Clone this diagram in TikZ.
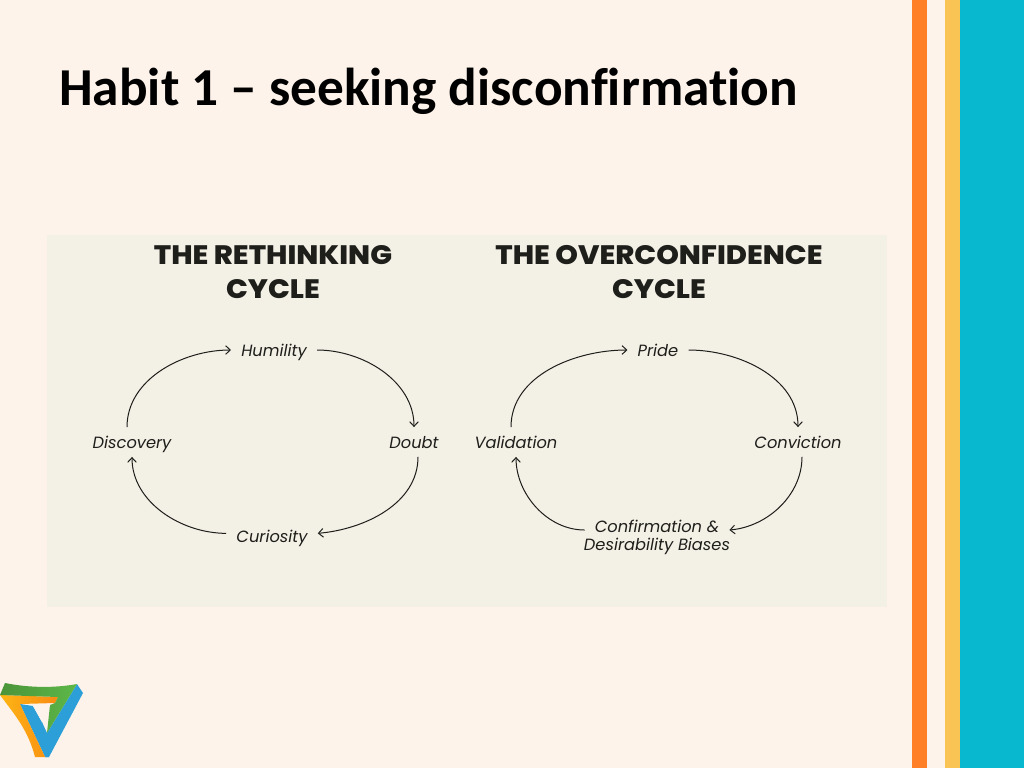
\documentclass[tikz,border=0pt]{standalone}
\usepackage{fontspec}
\setmainfont[Ligatures=NoCommon]{Carlito}
\newfontfamily\cyclefont{Poppins}
\newfontfamily\cycleheadfont[FakeStretch=1.08]{Poppins ExtraBold}
\usetikzlibrary{positioning, arrows.meta}
\definecolor{pagecream}{HTML}{FEF3EB}
\definecolor{panelcream}{HTML}{F3F0E6}
\definecolor{stripeorange}{HTML}{FF7F27}
\definecolor{stripeyellow}{HTML}{F9C454}
\definecolor{stripeteal}{HTML}{08B8CE}
\definecolor{inkdark}{HTML}{1E1E1A}
\definecolor{logogreen}{HTML}{5DB848}
\definecolor{logoblue}{HTML}{2C9FD8}
\definecolor{logoyellow}{HTML}{FDB515}
\definecolor{logoorange}{HTML}{F98A12}
\tikzset{
  cycletitle/.style={font=\cycleheadfont\fontsize{20}{25}\selectfont, text=inkdark, align=center},
  cyclelabel/.style={font=\cyclefont\fontsize{12.2}{13.5}\selectfont\itshape, text=inkdark, inner xsep=7.5pt, inner ysep=4.5pt, text height=11pt, text depth=2pt},
  cyclearrow/.style={draw=inkdark, line width=0.75pt, -{Straight Barb[length=3.5pt, width=6.5pt]}}
}
\begin{document}
\begin{tikzpicture}[x=0.75pt, y=-0.75pt]
% Page and side stripes
\fill[pagecream] (0,0) rectangle (1024,768);
\fill[stripeorange] (912,0) rectangle (927,768);
\fill[stripeyellow] (945,0) rectangle (960,768);
\fill[stripeteal] (960,0) rectangle (1024,768);
\fill[panelcream] (47,235) rectangle (887,607);

% Title
\node[font=\fontsize{40}{44}\selectfont\bfseries, text=black, anchor=west, inner sep=0pt] (slidetitle) at (59,91) {Habit 1 – seeking disconfirmation};

% Left cycle
\node[cycletitle] (rethinktitle) at (273,272) {THE RETHINKING\\CYCLE};
\node[cyclelabel] (humility) at (274,350) {Humility};
\node[cyclelabel] (doubt) at (414,442) {Doubt};
\node[cyclelabel] (curiosity) at (272,536) {Curiosity};
\node[cyclelabel] (discovery) at (132,442) {Discovery};
\draw[cyclearrow] (humility.east) to[out=0, in=90, looseness=0.95] (doubt.north);
\draw[cyclearrow] ([xshift=3pt]doubt.south) to[out=-90, in=5, looseness=0.95] ([yshift=2pt]curiosity.east);
\draw[cyclearrow] ([yshift=2pt]curiosity.west) to[out=180, in=-90, looseness=0.95] (discovery.south);
\draw[cyclearrow] ([xshift=-3.75pt]discovery.north) to[out=90, in=180, looseness=0.95] (humility.west);

% Right cycle
\node[cycletitle] (overtitle) at (659,272) {THE OVERCONFIDENCE\\CYCLE};
\node[cyclelabel] (pride) at (658,350) {Pride};
\node[cyclelabel] (conviction) at (798,442) {Conviction};
\node[cyclelabel] (confirm) at (657,526) {Confirmation \&};
\node[cyclelabel] (biases) at (657,544) {Desirability Biases};
\node[cyclelabel] (validation) at (516,442) {Validation};
\draw[cyclearrow] (pride.east) to[out=0, in=90, looseness=0.95] (conviction.north);
\draw[cyclearrow] ([xshift=3pt]conviction.south) to[out=-90, in=5, looseness=0.95] ([yshift=-3pt]confirm.east);
\draw[cyclearrow] ([yshift=-3pt]confirm.west) to[out=180, in=-90, looseness=0.95] (validation.south);
\draw[cyclearrow] ([xshift=-3.75pt]validation.north) to[out=90, in=180, looseness=0.95] (pride.west);

% Logo
\fill[logoblue] (77,684) -- (83,693) -- (49,757) -- (45,757) -- (47,733) -- cycle;
\fill[logoblue] (20,704) -- (33,706) -- (42,722) -- (47,733) -- (49,757) -- (45,757) -- cycle;
\shade[left color=logoyellow, right color=logoorange] (0,695) -- (58,697) -- (55,703) -- (20,704) -- (45,757) -- (35,757) .. controls (28,730) and (15,715) .. cycle;
\shade[left color=logogreen!80!black, right color=logogreen] (0,695) -- (5,683) .. controls (30,688) and (55,688) .. (77,684) -- (47,733) -- (50,705) -- (55,703) -- (58,697) -- cycle;
\fill[pagecream] (33,706) -- (50,705) -- (42,722) -- cycle;
\end{tikzpicture}
\end{document}
